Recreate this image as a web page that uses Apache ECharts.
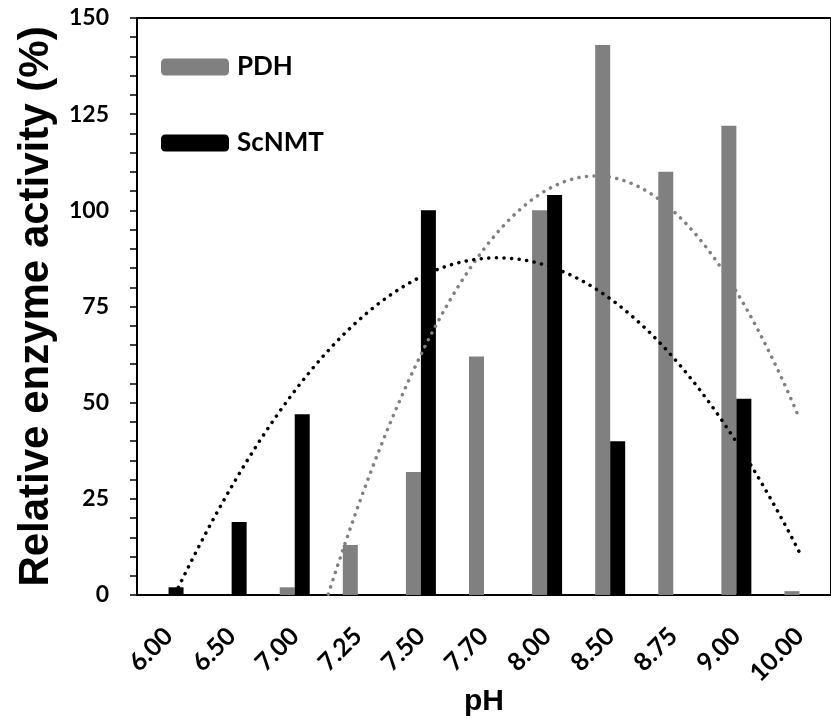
<!DOCTYPE html>
<html><head><meta charset="utf-8">
<script src="https://cdn.jsdelivr.net/npm/echarts@6/dist/echarts.min.js"></script>
<style>html,body{margin:0;padding:0;background:#fff}#c{width:831px;height:723px}</style>
</head><body><div id="c"></div>
<script>
const categories = ['6.00','6.50','7.00','7.25','7.50','7.70','8.00','8.50','8.75','9.00','10.00'];
const pdh   = [null, null, 2, 13, 32, 62, 100, 143, 110, 122, 1];
const scnmt = [2, 19, 47, null, 100, null, 104, 40, null, 51, null];
const yTicks = [0, 25, 50, 75, 100, 125, 150];

// Excel-style order-2 polynomial trendline (x = 1..n, blanks skipped)
function polyFit2(vals) {
  const pts = [];
  vals.forEach((v, i) => { if (v !== null) pts.push([i + 1, v]); });
  let S = [0,0,0,0,0], T = [0,0,0];
  pts.forEach(([x, y]) => {
    for (let k = 0; k < 5; k++) S[k] += Math.pow(x, k);
    for (let k = 0; k < 3; k++) T[k] += y * Math.pow(x, k);
  });
  const A = [[S[0],S[1],S[2],T[0]],[S[1],S[2],S[3],T[1]],[S[2],S[3],S[4],T[2]]];
  for (let i = 0; i < 3; i++) {
    let p = i; for (let r = i+1; r < 3; r++) if (Math.abs(A[r][i]) > Math.abs(A[p][i])) p = r;
    [A[i], A[p]] = [A[p], A[i]];
    for (let r = 0; r < 3; r++) if (r !== i) {
      const f = A[r][i] / A[i][i];
      for (let c = i; c < 4; c++) A[r][c] -= f * A[i][c];
    }
  }
  return [A[0][3]/A[0][0], A[1][3]/A[1][1], A[2][3]/A[2][2]];
}
function trend(vals) {
  const c = polyFit2(vals), out = [];
  for (let x = 1; x <= vals.length + 1e-9; x += 0.02) out.push([x - 0.5, c[0] + c[1]*x + c[2]*x*x]);
  return out;
}

const font = 'Lato, "Open Sans", sans-serif';
const titleFont = '"Liberation Sans", Arial, sans-serif';
const chart = echarts.init(document.getElementById('c'));
chart.setOption({
  animation: false,
  backgroundColor: '#fff',
  grid: { left: 137, right: 0, top: 18, bottom: 128, containLabel: false, outerBoundsMode: 'none',
    show: true, borderColor: '#000', borderWidth: 2 },
  legend: {
    left: 161, top: 54, orient: 'vertical', itemWidth: 68, itemHeight: 17, itemGap: 50, padding: 0,
    data: ['PDH', 'ScNMT'],
    textStyle: { fontFamily: font, fontWeight: 'bold', fontSize: 26, color: '#000', padding: [0,0,0,3] }
  },
  xAxis: [{
    type: 'category', data: categories,
    name: 'pH', nameLocation: 'middle', nameGap: 92, nameMoveOverlap: false,
    nameTextStyle: { fontFamily: titleFont, fontWeight: 'bold', fontSize: 30, color: '#000' },
    axisLine: { lineStyle: { color: '#000', width: 2 } },
    axisTick: { show: false },
    axisLabel: { rotate: 45, margin: 37, fontFamily: font, fontWeight: 'bold', fontSize: 25, color: '#000', interval: 0 }
  }, {
    type: 'value', min: 0, max: categories.length, show: false
  }],
  yAxis: {
    type: 'value', min: 0, max: 150, interval: 25,
    name: 'Relative enzyme activity (%)', nameLocation: 'middle', nameGap: 80, nameMoveOverlap: false,
    nameTextStyle: { fontFamily: titleFont, fontWeight: 'bold', fontSize: 42, color: '#000' },
    axisLine: { show: true, lineStyle: { color: '#000', width: 2 } },
    axisTick: { show: true, inside: false, length: 7, lineStyle: { color: '#000', width: 1.5 } },
    minorTick: { show: true, splitNumber: 5, length: 7, lineStyle: { color: '#000', width: 1.5 } },
    splitLine: { show: false },
    axisLabel: { margin: 28, fontFamily: font, fontWeight: 'bold', fontSize: 23, color: '#000',
      formatter: v => yTicks.includes(v) ? String(v) : '' }
  },
  series: [
    { name: 'PDH', type: 'bar', data: pdh, barWidth: 15, barGap: '0%', itemStyle: { color: '#808080' } },
    { name: 'ScNMT', type: 'bar', data: scnmt, barWidth: 15, barGap: '0%', itemStyle: { color: '#000' } },
    { name: 'PDH trend', type: 'line', xAxisIndex: 1, data: trend(pdh), showSymbol: false, clip: true,
      lineStyle: { color: '#808080', width: 3.5, type: [0.1, 7.5], cap: 'round' }, silent: true },
    { name: 'ScNMT trend', type: 'line', xAxisIndex: 1, data: trend(scnmt), showSymbol: false, clip: true,
      lineStyle: { color: '#000', width: 3.5, type: [0.1, 7.5], cap: 'round' }, silent: true }
  ]
});
</script></body></html>
